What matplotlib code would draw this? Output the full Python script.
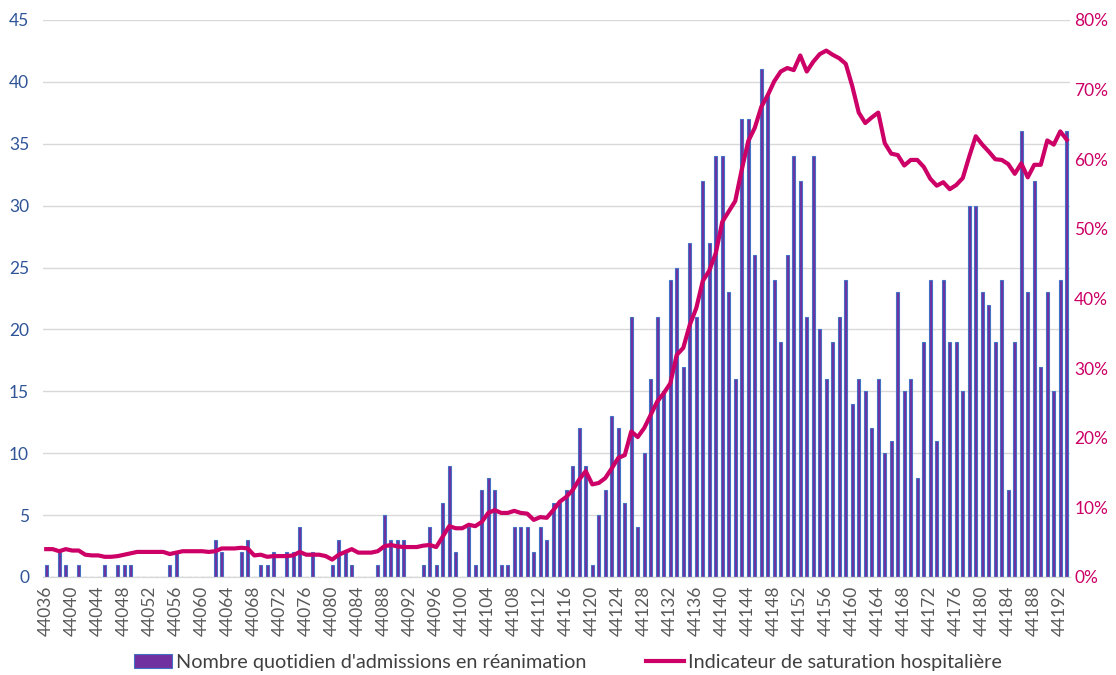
import matplotlib
matplotlib.use("Agg")
import matplotlib.pyplot as plt
from matplotlib.ticker import FuncFormatter

# ---------------------------------------------------------------------------
# Data
# ---------------------------------------------------------------------------
first_day = 44036
admissions = [
    1, 0, 2, 1, 0, 1, 0, 0, 0, 1,   # 44036-44045
    0, 1, 1, 1, 0, 0, 0, 0, 0, 1,   # 44046-44055
    2, 0, 0, 0, 0, 0, 3, 2, 0, 0,   # 44056-44065
    2, 3, 0, 1, 1, 2, 0, 2, 2, 4,   # 44066-44075
    0, 2, 0, 0, 1, 3, 2, 1, 0, 0,   # 44076-44085
    0, 1, 5, 3, 3, 3, 0, 0, 1, 4,   # 44086-44095
    1, 6, 9, 2, 0, 4, 1, 7, 8, 7,   # 44096-44105
    1, 1, 4, 4, 4, 2, 4, 3, 6, 6,   # 44106-44115
    7, 9, 12, 9, 1, 5, 7, 13, 12, 6,   # 44116-44125
    21, 4, 10, 16, 21, 15, 24, 25, 17, 27,   # 44126-44135
    21, 32, 27, 34, 34, 23, 16, 37, 37, 26,   # 44136-44145
    41, 39, 24, 19, 26, 34, 32, 21, 34, 20,   # 44146-44155
    16, 19, 21, 24, 14, 16, 15, 12, 16, 10,   # 44156-44165
    11, 23, 15, 16, 8, 19, 24, 11, 24, 19,   # 44166-44175
    19, 15, 30, 30, 23, 22, 19, 24, 7, 19,   # 44176-44185
    36, 23, 32, 17, 23, 15, 24, 36,   # 44186-44193
]
saturation = [
    4.0, 4.0, 3.7, 4.0, 3.8, 3.8, 3.2, 3.1, 3.1, 2.9,
    2.9, 3.0, 3.2, 3.4, 3.6, 3.6, 3.6, 3.6, 3.6, 3.3,
    3.5, 3.7, 3.7, 3.7, 3.7, 3.6, 3.7, 4.1, 4.1, 4.1,
    4.2, 4.1, 3.1, 3.2, 2.9, 3.0, 3.0, 3.0, 3.1, 3.6,
    3.2, 3.2, 3.2, 3.0, 2.5, 3.2, 3.6, 4.0, 3.5, 3.5,
    3.5, 3.7, 4.4, 4.6, 4.4, 4.3, 4.3, 4.3, 4.5, 4.6,
    4.3, 5.8, 7.3, 7.0, 7.0, 7.5, 7.3, 7.9, 9.2, 9.6,
    9.2, 9.2, 9.5, 9.2, 9.1, 8.2, 8.6, 8.5, 9.6, 10.8,
    11.5, 12.5, 14.0, 15.2, 13.3, 13.5, 14.2, 15.6, 17.1, 17.5,
    20.9, 20.1, 21.4, 23.3, 25.2, 26.4, 27.8, 31.9, 32.9, 36.2,
    38.6, 42.5, 44.0, 46.5, 51.0, 52.5, 54.0, 58.5, 62.6, 64.5,
    67.5, 69.2, 71.2, 72.6, 73.1, 72.8, 74.9, 72.6, 74.0, 75.1,
    75.6, 75.0, 74.5, 73.7, 70.5, 66.7, 65.2, 66.0, 66.7, 62.3,
    60.8, 60.6, 59.1, 59.9, 59.9, 58.9, 57.2, 56.2, 56.7, 55.7,
    56.3, 57.3, 60.4, 63.3, 62.1, 61.1, 60.0, 59.9, 59.3, 57.9,
    59.4, 57.4, 59.2, 59.2, 62.7, 62.1, 64.0, 62.8,
]
days = list(range(first_day, first_day + len(admissions)))
tick_days = days[::4]

bar_label = "Nombre quotidien d'admissions en réanimation"
line_label = "Indicateur de saturation hospitalière"

BAR_FILL = "#7030A0"
BAR_EDGE = "#4472C4"
LINE_COLOR = "#CC0066"

plt.rcParams["font.family"] = ["Lato", "DejaVu Sans"]

fig = plt.figure(figsize=(11.16, 6.75), dpi=100)
ax = fig.add_axes([0.0385, 0.1452, 0.9203, 0.8252])
ax2 = ax.twinx()

# ---- bars (left axis) ------------------------------------------------------
ax.bar(days, admissions, width=0.45, color=BAR_FILL, edgecolor=BAR_EDGE,
       linewidth=0.8, label=bar_label, zorder=2)
ax.set_xlim(first_day - 0.5, days[-1] + 0.5)
ax.set_ylim(0, 45)
ax.set_yticks(range(0, 46, 5))
ax.yaxis.grid(True, color="#D9D9D9", linewidth=1.0, zorder=0)
ax.set_axisbelow(True)
ax.set_xticks(tick_days)
ax.set_xticklabels([str(d) for d in tick_days], rotation=90)
ax.tick_params(axis="x", length=0, pad=6, labelsize=12.5, labelcolor="#595959")
ax.tick_params(axis="y", length=0, pad=10, labelsize=12.5, labelcolor="#2F5597")

# ---- line (right axis) -----------------------------------------------------
ax2.plot(days, saturation, color=LINE_COLOR, linewidth=3.0, label=line_label,
         solid_joinstyle="round", zorder=3)
ax2.set_ylim(0, 80)
ax2.set_yticks(range(0, 81, 10))
ax2.yaxis.set_major_formatter(FuncFormatter(lambda v, _: f"{v:.0f}%"))
ax2.tick_params(axis="y", length=0, pad=3, labelsize=12.5, labelcolor=LINE_COLOR)

for a in (ax, ax2):
    for side in ("top", "left", "right"):
        a.spines[side].set_visible(False)
    a.spines["bottom"].set_color("#D9D9D9")

# ---- legend ----------------------------------------------------------------
h1, l1 = ax.get_legend_handles_labels()
h2, l2 = ax2.get_legend_handles_labels()
fig.legend(h1 + h2, l1 + l2, loc="center", bbox_to_anchor=(0.509, 0.019),
           ncol=2, frameon=False, fontsize=14.3, handlelength=1.9,
           handletextpad=0.2, columnspacing=3.0, labelcolor="#404040")

fig.savefig("out.png", dpi=100)
